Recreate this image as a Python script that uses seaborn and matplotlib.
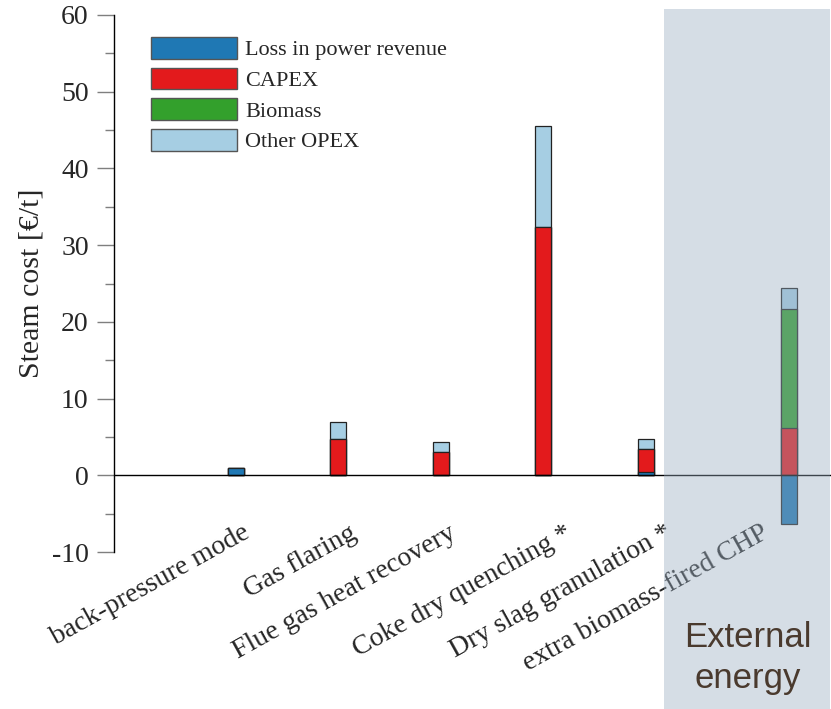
import numpy as np
import pandas as pd
import matplotlib
matplotlib.use("Agg")
import matplotlib.pyplot as plt
from matplotlib.patches import Patch, Rectangle
from matplotlib.ticker import MultipleLocator
import seaborn as sns

# Steam supply options and their cost breakdown [€/t]
options = ["back-pressure mode", "Gas flaring", "Flue gas heat recovery",
           "Coke dry quenching *", "Dry slag granulation *",
           "extra biomass-fired CHP"]
positions = [0, 1, 2, 3, 4, 5.4]
label_positions = [0.06, 1.1, 2.07, 3.2, 4.18, 5.12]

loss_power = [0.9, 0.0, 0.0, 0.0, 0.4, -6.3]
capex = [0.0, 4.7, 3.0, 32.3, 3.0, 6.2]
biomass = [0.0, 0.0, 0.0, 0.0, 0.0, 15.5]
other_opex = [0.0, 2.25, 1.35, 13.2, 1.33, 2.7]

components = ["Loss in power revenue", "CAPEX", "Biomass", "Other OPEX"]
colors = {"Loss in power revenue": "#1f78b4", "CAPEX": "#e31a1c",
          "Biomass": "#33a02c", "Other OPEX": "#a6cee3"}

sns.set_style("ticks")
plt.rcParams["font.family"] = ["Liberation Serif", "DejaVu Serif"]
plt.rcParams["axes.unicode_minus"] = False

df = pd.DataFrame({"pos": positions, "option": options,
                   "Loss in power revenue": loss_power, "CAPEX": capex,
                   "Biomass": biomass, "Other OPEX": other_opex})

# cumulative tops of the positive stack; negative parts hang below zero
pos_loss = df["Loss in power revenue"].clip(lower=0)
stack = {
    "Other OPEX": pos_loss + df["CAPEX"] + df["Biomass"] + df["Other OPEX"],
    "Biomass": pos_loss + df["CAPEX"] + df["Biomass"],
    "CAPEX": pos_loss + df["CAPEX"],
    "Loss in power revenue": df["Loss in power revenue"],
}

fig = plt.figure(figsize=(8.31, 7.09), dpi=100)
ax = fig.add_axes([114 / 831, 1 - 552 / 709, 1 - 114 / 831, (552 - 15) / 709])

bar_w = 0.156
for comp in ["Other OPEX", "Biomass", "CAPEX", "Loss in power revenue"]:
    sns.barplot(x=df["pos"], y=stack[comp], native_scale=True, orient="v",
                color=colors[comp], saturation=1, width=bar_w,
                edgecolor="#222222", linewidth=0.9, errorbar=None, ax=ax)

ax.axhline(0, color="black", lw=1, zorder=5, clip_on=False)

ax.set_xlim(-1.19, 5.805)
ax.set_ylim(-10, 60)
ax.yaxis.set_major_locator(MultipleLocator(10))
ax.yaxis.set_minor_locator(MultipleLocator(5))
ax.tick_params(axis="y", which="major", length=12.2, width=1, color="#7f7f7f",
               pad=6, labelsize=20)
ax.tick_params(axis="y", which="minor", length=6.5, width=1, color="#7f7f7f")
ax.set_xticks([])
ax.set_xlabel("")
ax.set_ylabel("Steam cost [€/t]", fontsize=21.5, labelpad=5)
for s in ["top", "right", "bottom"]:
    ax.spines[s].set_visible(False)
ax.spines["left"].set_linewidth(1)
ax.spines["left"].set_color("black")

for lp, name in zip(label_positions, options):
    ax.text(lp, -5.9, name, rotation=29, rotation_mode="anchor",
            ha="right", va="top", fontsize=20, clip_on=False)

handles = [Patch(facecolor=colors[c], edgecolor="#555555", lw=1) for c in components]
ax.legend(handles, components, loc="upper left",
          bbox_to_anchor=(151 / 831, 1 - 37 / 709), bbox_transform=fig.transFigure,
          frameon=False, fontsize=16, handlelength=3.85, handleheight=1.12,
          labelspacing=0.33, handletextpad=0.4, borderpad=0, borderaxespad=0)

# translucent panel marking the external energy option
panel = Rectangle((664 / 831, 0), (830 - 664) / 831, 1 - 9 / 709,
                  transform=fig.transFigure, facecolor=(152 / 255, 172 / 255, 192 / 255),
                  alpha=0.4, edgecolor="none", zorder=20, clip_on=False)
ax.add_artist(panel)
fig.text(748 / 831, 1 - 658 / 709, "External\nenergy", ha="center", va="center",
         fontsize=25, color="#4a3a2e", family="Liberation Sans",
         linespacing=1.3, zorder=25)

fig.savefig("out.png", dpi=100)
